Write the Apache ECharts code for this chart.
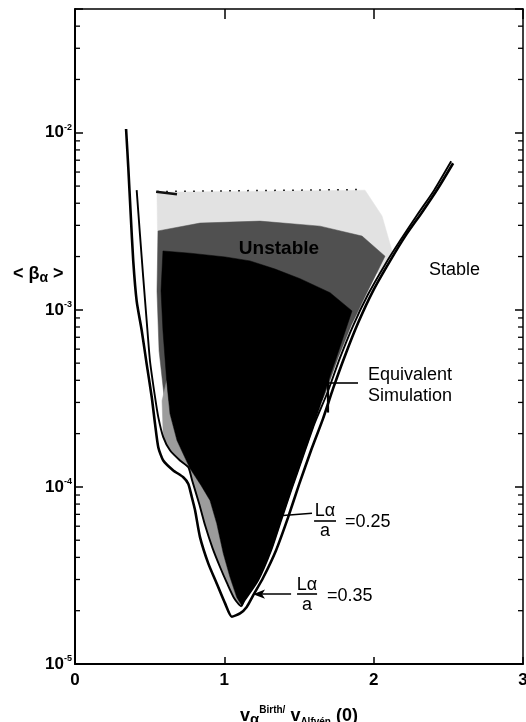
<!DOCTYPE html>
<html>
<head>
<meta charset="utf-8">
<script src="https://cdn.jsdelivr.net/npm/echarts@6/dist/echarts.min.js"></script>
<style>
html,body{margin:0;padding:0;background:#fff;}
#c{width:526px;height:722px;}
</style>
</head>
<body>
<div id="c"></div>
<script>
// ---------------- data ----------------
// boundary curve L_alpha/a = 0.35 (outer)
const curve035 = [
  [0.342,1.05e-2],[0.357,6.34e-3],[0.373,3.46e-3],[0.390,1.89e-3],[0.413,1.12e-3],
  [0.447,7.62e-4],[0.480,4.94e-4],[0.514,3.21e-4],[0.536,2.27e-4],[0.558,1.67e-4],
  [0.591,1.41e-4],[0.658,1.24e-4],[0.725,1.135e-4],[0.759,1.04e-4],[0.782,8.77e-5],
  [0.804,7.38e-5],[0.837,5.21e-5],[0.893,3.69e-5],[0.949,2.85e-5],[1.005,2.20e-5],
  [1.050,1.85e-5],[1.105,1.93e-5],[1.150,2.10e-5],[1.194,2.45e-5],[1.259,3.06e-5],
  [1.346,4.38e-5],[1.427,6.73e-5],[1.500,1.03e-4],[1.581,1.61e-4],[1.661,2.43e-4],
  [1.728,3.59e-4],[1.808,5.51e-4],[1.896,8.45e-4],[1.996,1.28e-3],[2.110,1.89e-3],
  [2.217,2.65e-3],[2.324,3.56e-3],[2.431,4.86e-3],[2.532,6.73e-3]
];
// boundary curve L_alpha/a = 0.25 (inner)
const curve025 = [
  [0.413,4.74e-3],[0.435,2.67e-3],[0.457,1.52e-3],[0.480,8.67e-4],[0.502,5.16e-4],
  [0.536,3.21e-4],[0.558,2.47e-4],[0.591,1.91e-4],[0.636,1.61e-4],[0.703,1.41e-4],
  [0.759,1.29e-4],[0.784,1.09e-4],[0.831,8.07e-5],[0.871,6.07e-5],[0.921,4.51e-5],
  [0.971,3.53e-5],[1.018,2.86e-5],[1.065,2.36e-5],[1.112,2.12e-5],[1.132,2.26e-5],
  [1.226,2.97e-5],[1.313,4.38e-5],[1.380,6.47e-5],[1.447,9.55e-5],[1.527,1.49e-4],
  [1.601,2.25e-4],[1.688,3.37e-4],[1.775,5.37e-4],[1.862,8.13e-4],[1.962,1.22e-3],
  [2.076,1.80e-3],[2.184,2.51e-3],[2.291,3.43e-3],[2.405,4.74e-3],[2.519,6.90e-3]
];
// simulation: densely unstable region outline
const denseRegion = [
  [0.589,2.15e-3],[0.576,1.28e-3],[0.589,7.62e-4],[0.614,3.98e-4],[0.636,2.59e-4],
  [0.683,1.83e-4],[0.770,1.27e-4],[0.844,1.02e-4],[0.904,8.39e-5],[0.949,6.22e-5],
  [0.993,4.21e-5],[1.038,3.09e-5],[1.083,2.38e-5],[1.119,2.12e-5],[1.132,2.26e-5],
  [1.226,2.97e-5],[1.313,4.38e-5],[1.380,6.47e-5],[1.447,9.55e-5],[1.527,1.49e-4],
  [1.601,2.25e-4],[1.654,3.07e-4],[1.715,4.42e-4],[1.748,5.30e-4],[1.815,7.82e-4],
  [1.855,9.86e-4],[1.708,1.25e-3],[1.507,1.50e-3],[1.340,1.70e-3],[1.172,1.89e-3],
  [1.005,1.99e-3],[0.770,2.09e-3]
];
// simulation: speckled (medium density) upper region outline
const mediumRegion = [
  [0.556,2.79e-3],[0.837,3.09e-3],[1.239,3.17e-3],[1.641,2.97e-3],[1.922,2.61e-3],
  [2.076,2.01e-3],[1.949,1.22e-3],[1.849,8.13e-4],[1.762,5.37e-4],[1.675,3.37e-4],
  [1.654,3.07e-4],[0.600,3.07e-4],[0.563,5.87e-4],[0.549,1.28e-3]
];
// simulation: light stipple band along the lower-left boundary
const stippleRegion = [
  [0.591,1.91e-4],[0.636,1.61e-4],[0.703,1.41e-4],[0.759,1.29e-4],[0.784,1.09e-4],
  [0.831,8.07e-5],[0.871,6.07e-5],[0.921,4.51e-5],[0.971,3.53e-5],[1.018,2.86e-5],
  [1.065,2.36e-5],[1.112,2.12e-5],[1.132,2.26e-5],[1.083,2.38e-5],[1.038,3.09e-5],
  [0.993,4.21e-5],[0.949,6.22e-5],[0.904,8.39e-5],[0.844,1.02e-4],[0.770,1.27e-4],
  [0.683,1.83e-4],[0.636,2.59e-4],[0.614,3.98e-4],[0.583,3.07e-4]
];
// simulation: sparse region outline
const sparseRegion = [
  [0.549,4.62e-3],[1.942,4.74e-3],[2.056,3.39e-3],[2.123,2.15e-3],[2.056,1.61e-3],[0.556,1.61e-3]
];
const topDashLine = [[0.549,4.66e-3],[1.93,4.78e-3]];
const topDashHead = [[0.543,4.65e-3],[0.683,4.49e-3]];

// axis ticks
const xTickValues = [0,1,2,3];
const yMinorTicks = [
  2e-5,3e-5,4e-5,5e-5,6e-5,7e-5,8e-5,9e-5,
  2e-4,3e-4,4e-4,5e-4,6e-4,7e-4,8e-4,9e-4,
  2e-3,3e-3,4e-3,5e-3,6e-3,7e-3,8e-3,9e-3,
  2e-2,3e-2,4e-2
];

// annotation anchors (data coordinates)
const annoStable = [2.542,1.67e-3];
const annoUnstable = [1.366,2.22e-3];
const annoEquiv = [1.962,3.73e-4];
const equivLeader = [[1.695,3.88e-4],[1.895,3.88e-4]];
const equivMarker = [[1.695,4.42e-4],[1.695,2.63e-4]];
const leader025 = [[1.393,6.9e-5],[1.587,7.1e-5]];
const bar025 = [[1.601,6.47e-5],[1.748,6.47e-5]];
const frac025 = [1.674,6.47e-5];
const eq025 = [1.808,6.3e-5];
const arrow035 = [[1.192,2.48e-5],[1.447,2.48e-5]];
const bar035 = [[1.487,2.48e-5],[1.621,2.48e-5]];
const frac035 = [1.554,2.48e-5];
const eq035 = [1.688,2.42e-5];

// ---------------- chart ----------------
const FONT = '"Liberation Sans", Arial, Helvetica, sans-serif';
const chart = echarts.init(document.getElementById('c'));

function polySeries(name, pts, color, z) {
  return {
    type: 'custom', name: name, data: pts, silent: true, z: z, animation: false,
    renderItem: function (params, api) {
      if (params.dataIndex !== 0) return null;
      return {
        type: 'polygon',
        shape: { points: pts.map(function (p) { return api.coord(p); }) },
        style: { fill: color, stroke: color, lineWidth: 0.5 }
      };
    }
  };
}

function yLabel(v) {
  const l = Math.log10(v);
  const e = Math.round(l);
  if (Math.abs(l - e) > 1e-6) return '';
  return '{b|10}{s|' + e + '}';
}

const option = {
  backgroundColor: '#fff',
  animation: false,
  grid: { left: 75, right: 3, top: 9, bottom: 58, containLabel: false, outerBoundsMode: 'none' },
  xAxis: [
    {
      type: 'value', min: 0, max: 3, interval: 1, position: 'bottom',
      axisLine: { show: true, onZero: false, lineStyle: { color: '#000', width: 2 } },
      axisTick: { show: true, inside: true, length: 7, lineStyle: { color: '#000', width: 1.5 } },
      axisLabel: { color: '#000', fontSize: 17, fontWeight: 'bold', fontFamily: FONT, margin: 8 },
      splitLine: { show: false },
      name: '{v|v}{a|α}{s|Birth/}{v| v}{b|Alfvén}{v| (0)}',
      nameLocation: 'middle', nameGap: 41,
      nameTextStyle: {
        rich: {
          v: { fontSize: 18, fontWeight: 'bold', fontFamily: FONT, color: '#000', lineHeight: 22 },
          a: { fontSize: 15, fontWeight: 'bold', fontFamily: FONT, color: '#000', lineHeight: 16, verticalAlign: 'bottom' },
          s: { fontSize: 10, fontWeight: 'bold', fontFamily: FONT, color: '#000', lineHeight: 11, verticalAlign: 'top' },
          b: { fontSize: 10, fontWeight: 'bold', fontFamily: FONT, color: '#000', lineHeight: 11, verticalAlign: 'bottom' }
        }
      }
    },
    {
      type: 'value', min: 0, max: 3, interval: 1, position: 'top',
      axisLine: { show: true, onZero: false, lineStyle: { color: '#000', width: 1.5 } },
      axisTick: { show: true, inside: true, length: 10, lineStyle: { color: '#000', width: 1.5 } },
      axisLabel: { show: false }, splitLine: { show: false }
    }
  ],
  yAxis: [
    {
      type: 'log', logBase: 10, min: 1e-5, max: 0.05, position: 'left',
      axisLine: { show: true, onZero: false, lineStyle: { color: '#000', width: 2 } },
      axisTick: { show: true, inside: true, length: 8, lineStyle: { color: '#000', width: 1.5 } },
      axisLabel: {
        show: true, margin: 3, formatter: yLabel,
        rich: {
          b: { fontSize: 17, fontWeight: 'bold', fontFamily: FONT, color: '#000', lineHeight: 20 },
          s: { fontSize: 9, fontWeight: 'bold', fontFamily: FONT, color: '#000', lineHeight: 10, verticalAlign: 'top' }
        }
      },
      splitLine: { show: false }
    },
    {
      type: 'log', logBase: 10, min: 1e-5, max: 0.05, position: 'right',
      axisLine: { show: true, onZero: false, lineStyle: { color: '#000', width: 1.5 } },
      axisTick: { show: true, inside: true, length: 8, lineStyle: { color: '#000', width: 1.5 } },
      axisLabel: { show: false }, splitLine: { show: false }
    }
  ],
  series: [
    polySeries('sparse', sparseRegion, '#e2e2e2', 1),
    polySeries('medium', mediumRegion, '#505050', 2),
    polySeries('stipple', stippleRegion, '#9c9c9c', 2),
    polySeries('dense', denseRegion, '#000000', 3),
    {
      type: 'line', name: 'topDash', data: topDashLine, symbol: 'none', silent: true, z: 4,
      lineStyle: { color: '#333', width: 1.5, type: [2, 7] }
    },
    {
      type: 'line', name: 'topDashHead', data: topDashHead, symbol: 'none', silent: true, z: 4,
      lineStyle: { color: '#111', width: 2.5 }
    },
    {
      type: 'line', name: 'L/a=0.35', data: curve035, symbol: 'none', smooth: 0.2, silent: true, z: 6,
      lineStyle: { color: '#000', width: 2.6 }
    },
    {
      type: 'line', name: 'L/a=0.25', data: curve025, symbol: 'none', smooth: 0.2, silent: true, z: 6,
      lineStyle: { color: '#000', width: 1.9 },
      markLine: {
        silent: true, animation: false, symbol: 'none', label: { show: false },
        lineStyle: { color: '#000', width: 1.6, type: 'solid' },
        emphasis: { disabled: true },
        data: [
          [{ coord: leader025[0] }, { coord: leader025[1] }],
          [{ coord: equivLeader[0] }, { coord: equivLeader[1] }],
          [{ coord: equivMarker[0], lineStyle: { width: 2.2 } }, { coord: equivMarker[1] }],
          [{ coord: bar025[0] }, { coord: bar025[1] }],
          [{ coord: bar035[0] }, { coord: bar035[1] }],
          [{ coord: arrow035[0], symbol: 'arrow', symbolSize: [7, 12] }, { coord: arrow035[1], symbol: 'none' }]
        ]
      }
    },
    {
      type: 'custom', name: 'minorTicks', data: yMinorTicks.map(function (v) { return [0, v]; }),
      silent: true, z: 10, clip: false, animation: false,
      renderItem: function (params, api) {
        const v = api.value(1);
        const l = api.coord([0, v]);
        const r = api.coord([3, v]);
        return {
          type: 'group', children: [
            { type: 'line', shape: { x1: l[0], y1: l[1], x2: l[0] + 5, y2: l[1] }, style: { stroke: '#000', lineWidth: 1.3 } },
            { type: 'line', shape: { x1: r[0], y1: r[1], x2: r[0] - 5, y2: r[1] }, style: { stroke: '#000', lineWidth: 1.3 } }
          ]
        };
      }
    }
  ]
};
chart.setOption(option);

// ---------------- text annotations anchored through the axes ----------------
function P(p) { return chart.convertToPixel({ gridIndex: 0 }, p); }
function txt(p, text, opts) {
  const q = P(p);
  return {
    type: 'text', x: q[0] + (opts.dx || 0), y: q[1] + (opts.dy || 0), silent: true, z: 100,
    style: Object.assign({
      text: text, fill: '#000', fontFamily: FONT, fontSize: 18, fontWeight: 'normal',
      align: 'center', verticalAlign: 'middle'
    }, opts.style || {})
  };
}
const graphics = [
  txt(annoStable, 'Stable', {}),
  txt(annoUnstable, 'Unstable', { style: { fontSize: 19, fontWeight: 'bold' } }),
  txt(annoEquiv, 'Equivalent\nSimulation', { style: { align: 'left', lineHeight: 21 } }),
  txt(frac025, 'Lα', { dy: -9 }),
  txt(frac025, 'a', { dy: 11 }),
  txt(eq025, '=0.25', { style: { align: 'left' } }),
  txt(frac035, 'Lα', { dy: -9 }),
  txt(frac035, 'a', { dy: 11 }),
  txt(eq035, '=0.35', { style: { align: 'left' } }),
  {
    type: 'text', left: 13, top: 265, silent: true, z: 100,
    style: {
      text: '{n|< β}{s|α}{n| >}',
      rich: {
        n: { fontSize: 18, fontWeight: 'bold', fontFamily: FONT, color: '#000', lineHeight: 22 },
        s: { fontSize: 14, fontWeight: 'bold', fontFamily: FONT, color: '#000', lineHeight: 16, verticalAlign: 'bottom' }
      }
    }
  }
];
chart.setOption({ graphic: graphics });
</script>
</body>
</html>
